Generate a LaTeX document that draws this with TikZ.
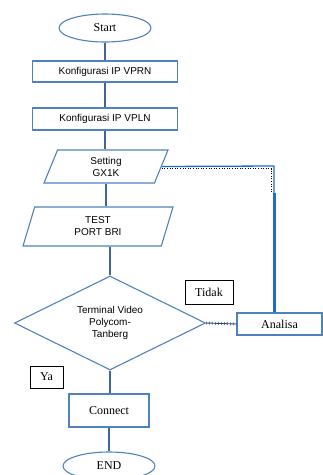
\documentclass[tikz,border=0pt]{standalone}
\usepackage{fontspec}
\setmainfont{Liberation Serif}
\newfontfamily\boxfont{Liberation Sans}
\usetikzlibrary{shapes.geometric}
\definecolor{frameblue}{HTML}{4F81BD}
\definecolor{flowblue}{HTML}{3F6699}
\definecolor{loopblue}{HTML}{1C6FC6}
\definecolor{linkdark}{HTML}{2C4A7A}

\tikzset{
  outline/.style={draw=frameblue, line width=1.1pt, inner sep=0pt, align=center},
  term/.style={outline, ellipse, minimum width=92pt, minimum height=28pt,
    font=\fontsize{12}{14}\selectfont},
  proc/.style={outline, rectangle, font=\boxfont\fontsize{10}{12}\selectfont},
  procserif/.style={outline, rectangle, font=\fontsize{12}{14}\selectfont},
  io/.style={outline, trapezium, trapezium stretches body,
    font=\boxfont\fontsize{10}{12}\selectfont},
  decision/.style={outline, diamond, aspect=2, minimum width=191pt,
    minimum height=94pt, font=\boxfont\fontsize{10}{12}\selectfont},
  tag/.style={draw=black, line width=0.8pt, rectangle, inner sep=0pt,
    font=\fontsize{12}{14}\selectfont},
  flow/.style={draw=flowblue, line width=2.8pt},
}

\begin{document}
\begin{tikzpicture}[x=1pt,y=-1pt]
\useasboundingbox (0,0) rectangle (323,475);
\clip (0,0) rectangle (323,475);

% flowchart steps
\node[term] (start) at (105,28) {Start};
\node[proc, minimum width=145pt, minimum height=21pt] (k1) at (105,71.5) {Konfigurasi IP VPRN};
\node[proc, minimum width=145pt, minimum height=22pt] (k2) at (105,119) {Konfigurasi IP VPLN};
\node[io, trapezium left angle=55, trapezium right angle=125,
      minimum width=124pt, minimum height=33pt] (set) at (106,166.5) {Setting\\GX1K};
\node[io, trapezium left angle=58.5, trapezium right angle=121.5,
      minimum width=150pt, minimum height=39pt] (test) at (98,226.5) {TEST\\PORT BRI};
\node[decision] (dec) at (110,323) {Terminal Video\\Polycom-\\Tanberg};
\node[tag, minimum width=48pt, minimum height=24pt] (tidak) at (209,292) {Tidak};
\node[procserif, minimum width=85pt, minimum height=22pt] (ana) at (279.5,324) {Analisa};
\node[tag, minimum width=33pt, minimum height=22pt] (ya) at (46.5,377) {Ya};
\node[procserif, minimum width=80pt, minimum height=33pt] (conn) at (109,410.5) {Connect};
\node[term] (end) at (109,466) {END};

% main flow
\draw[flow] (start.south) -- (start.south |- k1.north);
\draw[flow] (k1.south) -- (k1.south |- k2.north);
\draw[flow] (k2.south) -- (k2.south |- set.north);
\draw[flow] (set.south) -- (set.south |- test.north);
\draw[flow] (dec.north |- test.south) -- (dec.north);
\draw[flow] (dec.south) -- (dec.south |- conn.north);
\draw[flow] (conn.south) -- (conn.south |- end.north);

% loop back from Analisa to Setting GX1K
\coordinate (corner) at (274,166);
\coordinate (drop) at (274,193);
\draw[loopblue, line width=1.3pt] (set.east) -- (corner) -- (corner |- ana.north);
\draw[loopblue, line width=3pt] (drop) -- (drop |- ana.north);
\draw[black, dotted, line width=0.6pt] (set.east |- 0,168.5) -- (271.5,168.5) -- (271.5,193);

% "Tidak" branch to Analisa
\draw[linkdark, line width=0.9pt] (dec.east) -- (ana.west);
\draw[linkdark, line width=3pt, dash pattern=on 0.6pt off 2.4pt] (dec.east) -- (ana.west);
\end{tikzpicture}
\end{document}
